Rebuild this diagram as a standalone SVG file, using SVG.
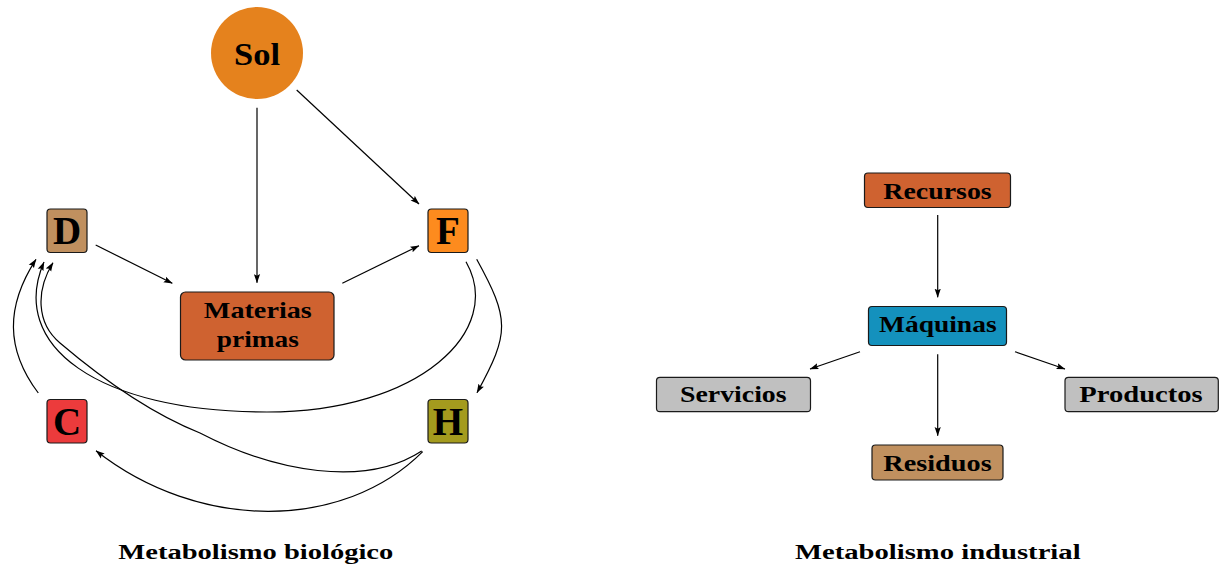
<svg xmlns="http://www.w3.org/2000/svg" width="1223" height="567" viewBox="0 0 1223 567">
<defs>
<marker id="ah" markerWidth="9" markerHeight="7" refX="8.6" refY="3.5" orient="auto" markerUnits="userSpaceOnUse">
<path d="M0,0.4 L9,3.5 L0,6.6 L1.6,3.5 z" fill="#000"/>
</marker>
<style>
.box{stroke:#1a1a1a;stroke-width:1.2}
.t{font-family:"Liberation Serif","Times New Roman",serif;font-weight:bold;fill:#000;text-anchor:middle}
.edge{fill:none;stroke:#000;stroke-width:1.2;marker-end:url(#ah)}
</style>
</defs>
<rect width="1223" height="567" fill="#fff"/>

<g id="connectors">
<path class="edge" d="M257,107.7 L257,282.7"/>
<path class="edge" d="M296.7,90 L419,204"/>
<path class="edge" d="M95.7,245 L172.3,283.3"/>
<path class="edge" d="M342.3,283.3 L419,245.7"/>
<path class="edge" d="M476.7,259.3 C509.7,319.3 510,332.7 477,392.7"/>
<path class="edge" d="M466,261.7 C505,330 420,412 267,412 C97,412 8,345 44,262"/>
<path class="edge" d="M421.7,451 C365,488 275,472 200,433 C150,413 100,377 60,343 C36,323 36,290 53,262.7"/>
<path class="edge" d="M38.3,393 C5.3,349 5.75,306 36,259.3"/>
<path class="edge" d="M422.7,451.7 C342.9,531.5 198.7,531.3 96,450.7"/>
<path class="edge" d="M937.7,215 L937.7,297.3"/>
<path class="edge" d="M860,351.7 L810,369"/>
<path class="edge" d="M937.7,354.3 L937.7,435.7"/>
<path class="edge" d="M1015,351.7 L1065,369"/>
</g>

<g id="sol">
<circle cx="257" cy="53" r="46" fill="#E5821D"/>
<text class="t" x="257" y="65" font-size="31" textLength="46" lengthAdjust="spacingAndGlyphs">Sol</text>
</g>
<g id="materias">
<rect class="box" x="180.5" y="292" width="153.5" height="68" rx="5" fill="#CF6230"/>
<text class="t" x="257.8" y="318.3" font-size="24" textLength="108" lengthAdjust="spacingAndGlyphs">Materias</text>
<text class="t" x="257.8" y="346.7" font-size="24" textLength="82" lengthAdjust="spacingAndGlyphs">primas</text>
</g>
<g id="D">
<rect class="box" x="47" y="209" width="40" height="43.5" rx="3.5" fill="#C0905F"/>
<text class="t" x="67" y="244.3" font-size="39">D</text>
</g>
<g id="F">
<rect class="box" x="428" y="209" width="40" height="43.5" rx="3.5" fill="#FD8B1E"/>
<text class="t" x="448" y="244.3" font-size="39">F</text>
</g>
<g id="C">
<rect class="box" x="47" y="399.5" width="40" height="43.5" rx="3.5" fill="#EC3B3C"/>
<text class="t" x="67" y="435" font-size="39">C</text>
</g>
<g id="H">
<rect class="box" x="428" y="399.5" width="40" height="43.5" rx="3.5" fill="#A49B1E"/>
<text class="t" x="448" y="435" font-size="39">H</text>
</g>

<g id="recursos">
<rect class="box" x="864.5" y="173" width="146" height="34.5" rx="3.5" fill="#CF6230"/>
<text class="t" x="937.5" y="199.3" font-size="23" textLength="108.4" lengthAdjust="spacingAndGlyphs">Recursos</text>
</g>
<g id="maquinas">
<rect class="box" x="868.5" y="306.5" width="138" height="39" rx="3.5" fill="#1491BD"/>
<text class="t" x="937.8" y="331.7" font-size="23" textLength="117.7" lengthAdjust="spacingAndGlyphs">Máquinas</text>
</g>
<g id="servicios">
<rect class="box" x="656.5" y="377.3" width="154" height="34.4" rx="3.5" fill="#C0C0C0"/>
<text class="t" x="733.3" y="401.7" font-size="23" textLength="106.7" lengthAdjust="spacingAndGlyphs">Servicios</text>
</g>
<g id="productos">
<rect class="box" x="1065" y="377.3" width="153.3" height="34.4" rx="3.5" fill="#C0C0C0"/>
<text class="t" x="1141" y="401.7" font-size="23" textLength="123.4" lengthAdjust="spacingAndGlyphs">Productos</text>
</g>
<g id="residuos">
<rect class="box" x="872" y="445" width="131" height="35" rx="3.5" fill="#C0905F"/>
<text class="t" x="937.5" y="470.7" font-size="23" textLength="108.4" lengthAdjust="spacingAndGlyphs">Residuos</text>
</g>

<g id="titles">
<text class="t" x="255.8" y="559.3" font-size="20.5" textLength="275" lengthAdjust="spacingAndGlyphs">Metabolismo biológico</text>
<text class="t" x="937.8" y="559.3" font-size="20.5" textLength="285.7" lengthAdjust="spacingAndGlyphs">Metabolismo industrial</text>
</g>
</svg>
